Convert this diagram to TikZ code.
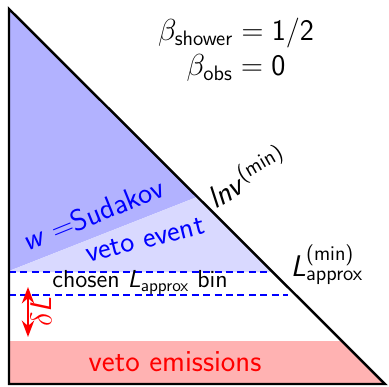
\documentclass[tikz,border=0pt]{standalone}
\usepackage{amsmath}
\usetikzlibrary{arrows.meta}
\renewcommand{\familydefault}{\sfdefault}
\newcommand{\Lapx}{\textit{L}}

\begin{document}
\begin{tikzpicture}[x=0.02cm, y=-0.02cm, >=Stealth, every node/.style={font=\fontsize{17}{20}\selectfont}]
  \useasboundingbox (0,0) rectangle (389,386);
  % corners of the plane
  \coordinate (top) at (9,9);
  \coordinate (corner) at (9,384);
  \coordinate (right) at (385,384);
  % shaded regions
  \fill[blue!30] (top) -- (197,197) -- (9,271) -- cycle;
  \fill[blue!15] (197,197) -- (272,272) -- (9,272) -- (9,271) -- cycle;
  \fill[red!30] (9,341) -- (341,341) -- (right) -- (corner) -- cycle;
  % bin edges
  \draw[blue, line width=1pt, dash pattern=on 4pt off 2.5pt] (9,272) -- (272,272);
  \draw[blue, line width=1pt, dash pattern=on 4pt off 2.5pt] (9,295) -- (288,295);
  \draw[line width=1.4pt] (top) -- (corner) -- (right) -- cycle;

  % labels
  \node (shower) at (236,33) {$\beta_{\text{shower}} = \text{1/2}$};
  \node (obs) at (236,68) {$\beta_{\text{obs}} = \text{0}$};
  \node[rotate=30, font=\fontsize{17.5}{20}\selectfont] (lnv) at (246,176) {\textit{lnv}$^{\text{(min)}}$};
  \node[blue, rotate=22] (sudakov) at (93,214) {\textit{w} $=$Sudakov};
  \node[blue, rotate=14] (vetoevent) at (145,240) {veto event};
  \node[font=\fontsize{14}{16}\selectfont] (bin) at (140,283) {chosen \Lapx$_{\text{approx}}$ bin};
  \node (lapprox) at (327,265) {\Lapx$^{\text{(min)}}_{\text{approx}}$};
  \node[red, font=\fontsize{17.5}{20}\selectfont] (emissions) at (175,362) {veto emissions};

  % bin width
  \coordinate (dtop) at (28,287);
  \coordinate (dbot) at (28,337);
  \draw[<->, red, line width=1.4pt] (dtop) -- (dbot);
  \node[red, rotate=90] (dl) at (41,312) {$\delta$\Lapx};
\end{tikzpicture}
\end{document}
